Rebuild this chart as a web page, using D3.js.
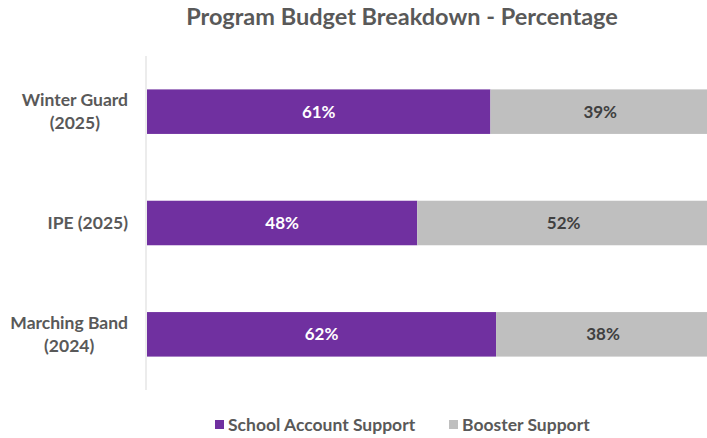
<!DOCTYPE html>
<html>
<head>
<meta charset="utf-8">
<script src="https://cdn.jsdelivr.net/npm/d3@7"></script>
<style>
  body { margin: 0; background: #fff; }
  text { font-family: Lato, "Open Sans", sans-serif; font-weight: bold; }
</style>
</head>
<body>
<div id="chart"></div>
<script>
var categories = ["Winter Guard (2025)", "IPE (2025)", "Marching Band (2024)"];
var categoryLines = [["Winter Guard", "(2025)"], ["IPE (2025)"], ["Marching Band", "(2024)"]];
var schoolValues = [61, 48, 62];
var boosterValues = [39, 52, 38];
var seriesNames = ["School Account Support", "Booster Support"];
var colors = ["#7030a0", "#bfbfbf"];

var width = 707, height = 438;
var margin = {top: 56, right: -3, bottom: 48, left: 147};

var svg = d3.select('#chart')
    .append('svg')
    .attr('width', width)
    .attr('height', height);

svg.append('text')
    .attr('x', 402)
    .attr('y', 25)
    .attr('text-anchor', 'middle')
    .attr('fill', '#595959')
    .style('font-size', '23.5px')
    .text('Program Budget Breakdown - Percentage');

var x = d3.scaleLinear()
    .domain([0, 100])
    .range([margin.left, width - margin.right]);

var y = d3.scaleBand()
    .domain(categories)
    .range([margin.top, height - margin.bottom])
    .paddingInner(0.6)
    .paddingOuter(0.3);

var rows = categories.map(function (c, i) {
    return {cat: c, lines: categoryLines[i], school: schoolValues[i], booster: boosterValues[i]};
});

var stack = d3.stack().keys(['school', 'booster']);
var layers = stack(rows);

var g = svg.append('g');
layers.forEach(function (layer, li) {
    g.selectAll('.bar' + li)
        .data(layer)
        .enter()
        .append('rect')
        .attr('x', function (d) { return x(d[0]); })
        .attr('width', function (d) { return x(d[1]) - x(d[0]); })
        .attr('y', function (d) { return y(d.data.cat); })
        .attr('height', y.bandwidth())
        .attr('fill', colors[li]);

    g.selectAll('.lab' + li)
        .data(layer)
        .enter()
        .append('text')
        .attr('x', function (d) { return (x(d[0]) + x(d[1])) / 2; })
        .attr('y', function (d) { return y(d.data.cat) + y.bandwidth() / 2; })
        .attr('dy', '0.35em')
        .attr('text-anchor', 'middle')
        .attr('fill', li === 0 ? '#ffffff' : '#404040')
        .style('font-size', '17px')
        .text(function (d) { return (d[1] - d[0]) + '%'; });
});

// y axis line
svg.append('line')
    .attr('x1', margin.left - 1).attr('x2', margin.left - 1)
    .attr('y1', margin.top).attr('y2', height - margin.bottom)
    .attr('stroke', '#d9d9d9')
    .attr('stroke-width', 1);

// category labels, lines centred on each other, block right-aligned at 128
var labelRight = 128;
rows.forEach(function (d) {
    var t = svg.append('text')
        .attr('text-anchor', 'middle')
        .attr('fill', '#595959')
        .style('font-size', '17.5px');
    var cy = y(d.cat) + y.bandwidth() / 2;
    d.lines.forEach(function (l, i) {
        t.append('tspan')
            .attr('y', cy + (i - (d.lines.length - 1) / 2) * 23)
            .attr('dy', '0.35em')
            .text(l);
    });
    var w = d3.max(t.selectAll('tspan').nodes(), function (n) { return n.getComputedTextLength(); });
    t.selectAll('tspan').attr('x', labelRight - w / 2);
});

// legend
var legend = svg.append('g');
var legendX = [215, 449];
seriesNames.forEach(function (name, i) {
    legend.append('rect')
        .attr('x', legendX[i]).attr('y', 420)
        .attr('width', 9).attr('height', 9)
        .attr('fill', colors[i]);
    legend.append('text')
        .attr('x', legendX[i] + 13).attr('y', 424.5)
        .attr('dy', '0.35em')
        .attr('fill', '#595959')
        .style('font-size', '17.5px')
        .text(name);
});
</script>
</body>
</html>
